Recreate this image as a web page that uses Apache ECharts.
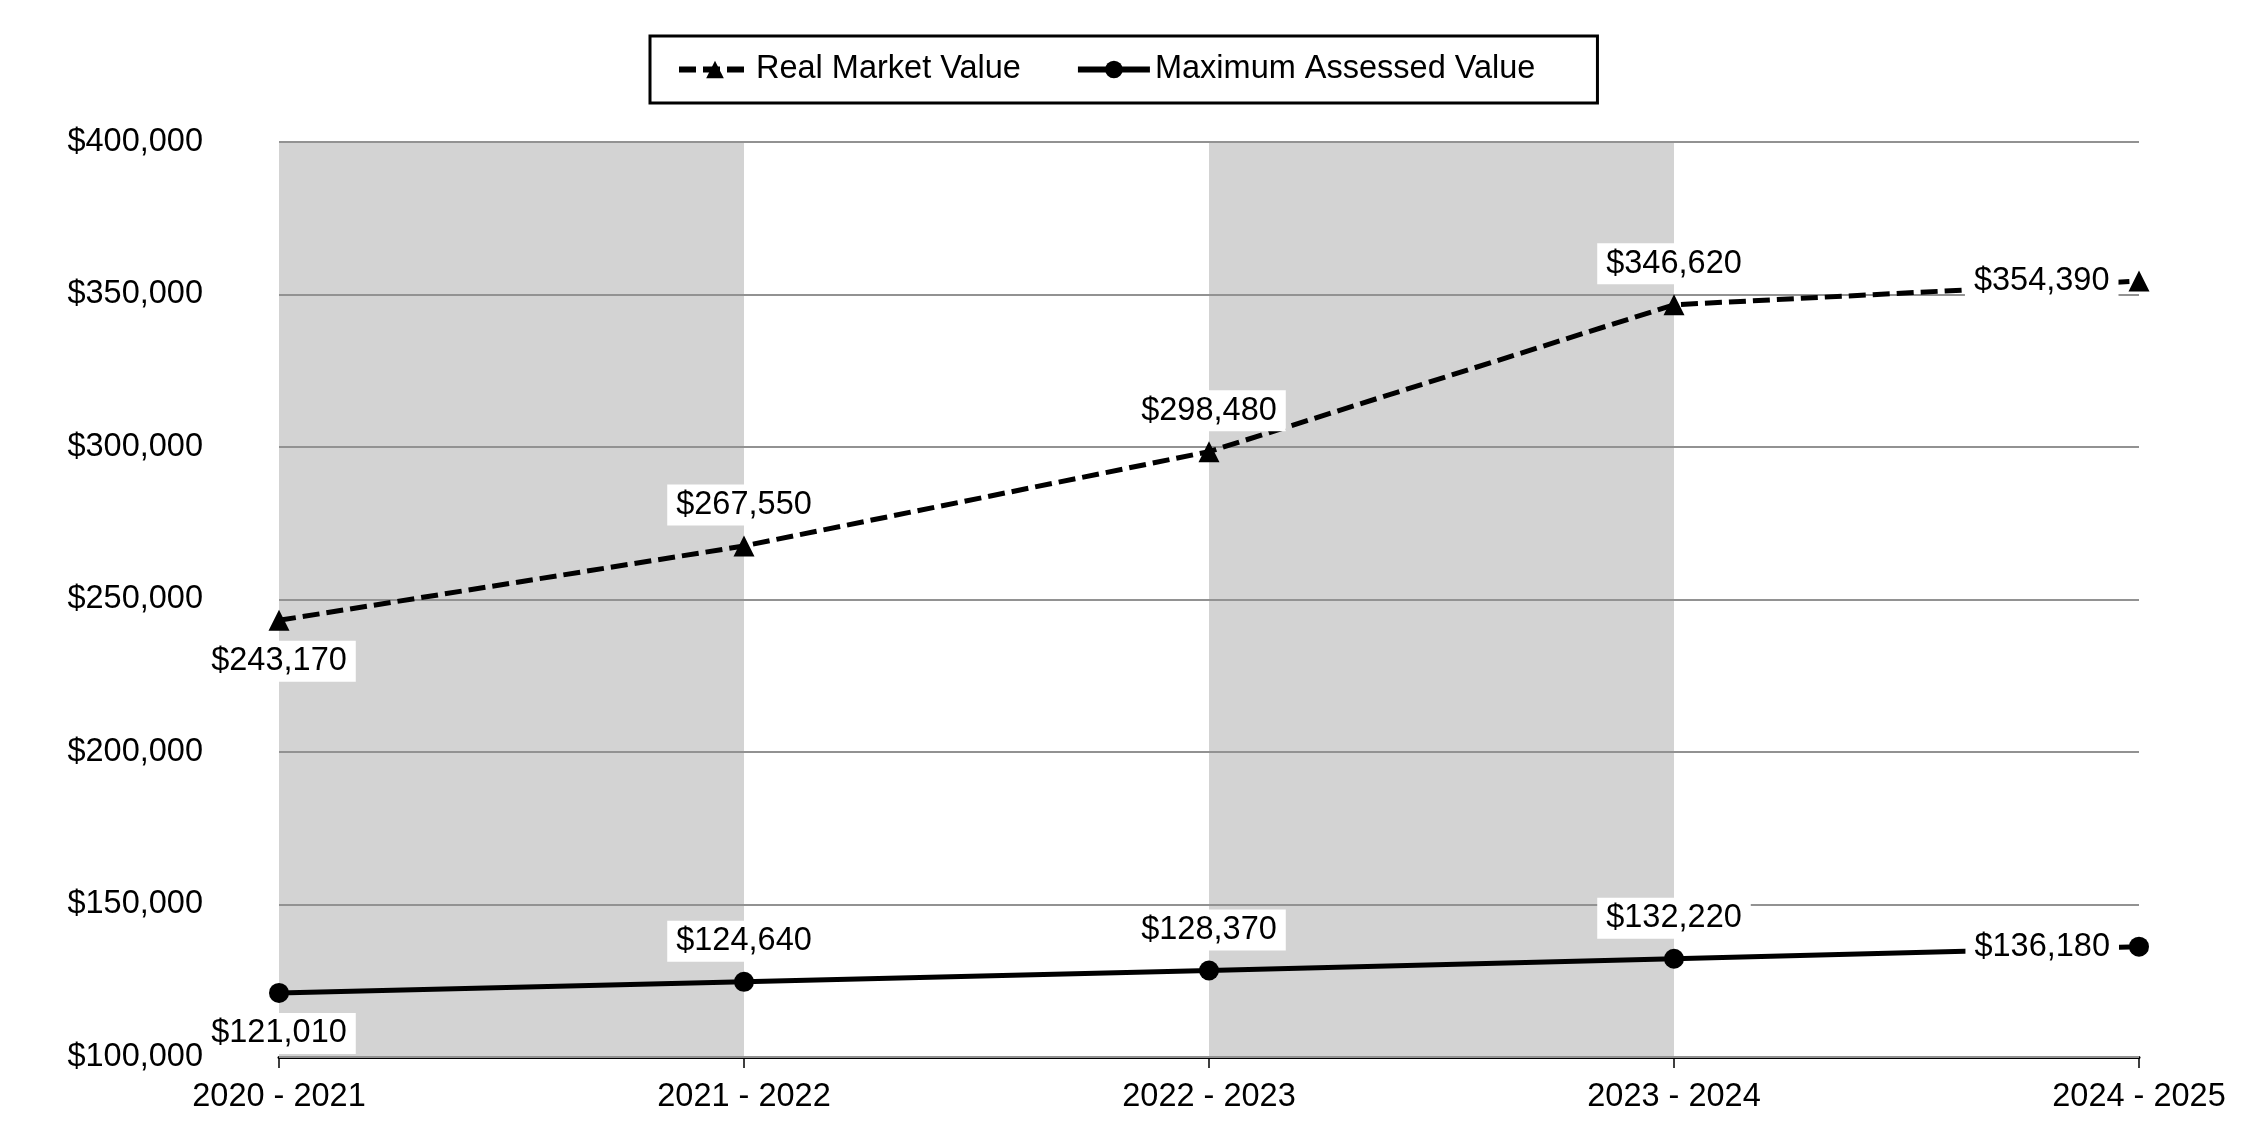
<!DOCTYPE html>
<html>
<head>
<meta charset="utf-8">
<script src="https://cdn.jsdelivr.net/npm/echarts@6/dist/echarts.min.js"></script>
<style>
html,body{margin:0;padding:0;background:#fff;}
#chart{width:2250px;height:1140px;}
</style>
</head>
<body>
<div id="chart"></div>
<script>
const categories = ['2020 - 2021', '2021 - 2022', '2022 - 2023', '2023 - 2024', '2024 - 2025'];
const realMarketValue = [243170, 267550, 298480, 346620, 354390];
const maxAssessedValue = [121010, 124640, 128370, 132220, 136180];
const seriesNames = ['Real Market Value', 'Maximum Assessed Value'];
const labelPlacement = ['bottom', 'top', 'top', 'top', 'left'];

const FONT = '"Liberation Sans", Arial, sans-serif';
const FS = 32.5;
const money = v => '$' + Number(v).toLocaleString('en-US');

function buildData(values) {
  return values.map((v, i) => ({ value: v, label: { position: labelPlacement[i] } }));
}

const labelStyle = {
  show: true,
  formatter: p => money(p.value),
  fontFamily: FONT,
  fontSize: FS,
  color: '#000',
  backgroundColor: '#fff',
  padding: [4, 9, 4, 9],
  distance: 10
};

const chart = echarts.init(document.getElementById('chart'), null, { renderer: 'canvas' });
chart.setOption({
  animation: false,
  backgroundColor: '#fff',
  textStyle: { fontFamily: FONT },
  legend: {
    left: 650,
    top: 36,
    padding: [17, 62, 17, 26],
    borderColor: '#000',
    borderWidth: 3,
    itemWidth: 72,
    itemHeight: 22,
    itemGap: 54,
    lineStyle: { width: 6 },
    textStyle: { fontFamily: FONT, fontSize: FS, color: '#000' },
    data: seriesNames
  },
  grid: { left: 279, right: 111, top: 142, bottom: 83, containLabel: false },
  xAxis: {
    type: 'category',
    data: categories,
    boundaryGap: false,
    axisLine: { lineStyle: { color: '#000', width: 3 } },
    axisTick: { show: true, length: 11, lineStyle: { color: '#000', width: 1.5 } },
    axisLabel: { fontFamily: FONT, fontSize: FS, color: '#000', margin: 24, interval: 0 },
    splitLine: { show: false },
    splitArea: { show: true, areaStyle: { color: ['#d3d3d3', '#ffffff'] } }
  },
  yAxis: {
    type: 'value',
    min: 100000,
    max: 400000,
    interval: 50000,
    z: 1,
    axisLine: { show: false },
    axisTick: { show: false },
    axisLabel: { fontFamily: FONT, fontSize: FS, color: '#000', margin: 76, formatter: v => money(v) },
    splitLine: { show: true, lineStyle: { color: '#929292', width: 2 } }
  },
  series: [
    {
      name: seriesNames[0],
      type: 'line',
      z: 3,
      data: buildData(realMarketValue),
      symbol: 'triangle',
      symbolSize: 21,
      itemStyle: { color: '#000' },
      lineStyle: { color: '#000', width: 5, type: [17, 7] },
      label: labelStyle
    },
    {
      name: seriesNames[1],
      type: 'line',
      z: 3,
      data: buildData(maxAssessedValue),
      symbol: 'circle',
      symbolSize: 20,
      itemStyle: { color: '#000' },
      lineStyle: { color: '#000', width: 5, type: 'solid' },
      label: labelStyle
    }
  ]
});
</script>
</body>
</html>
